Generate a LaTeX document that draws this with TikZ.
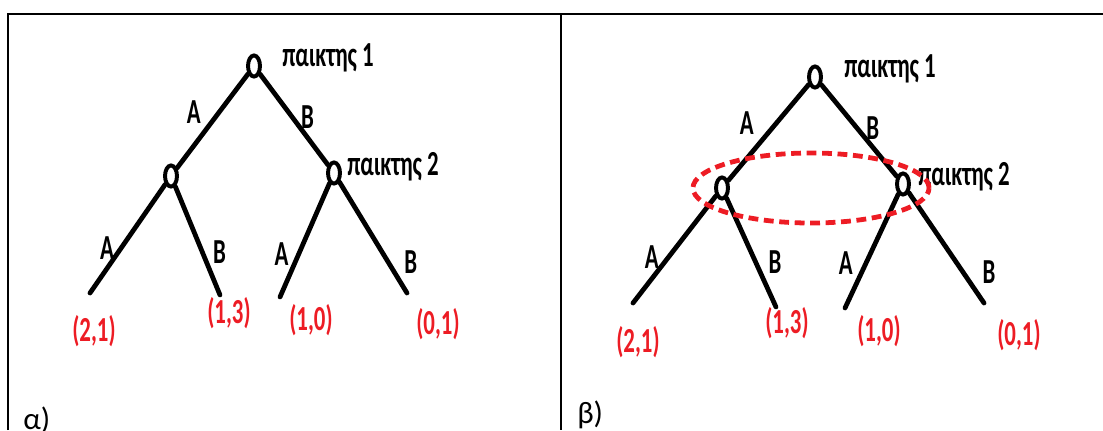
\documentclass[tikz,border=0pt]{standalone}
\usepackage{fontspec}
\setmainfont{Carlito}
\newfontfamily\narrowfont[FakeStretch=0.65]{Carlito Bold}
\usepackage{tikz}
\usetikzlibrary{shapes.geometric, positioning}
\definecolor{treeRed}{RGB}{237,28,36}

\begin{document}
\begin{tikzpicture}[x=0.025cm, y=-0.025cm,
  move/.style={line width=3.4pt, line cap=round},
  choice/.style={ellipse, draw, line width=2.8pt, minimum width=8.5pt,
                 minimum height=15pt, inner sep=0pt},
  player/.style={font=\narrowfont\fontsize{25}{28}\selectfont,
                 inner sep=0pt, anchor=base west},
  act/.style={font=\narrowfont\fontsize{25}{28}\selectfont, inner sep=0pt},
  pay/.style={font=\narrowfont\fontsize{25}{28}\selectfont, text=treeRed,
              inner sep=0pt},
  info/.style={draw=treeRed, line width=3.4pt, dash pattern=on 7pt off 4pt},
  frame/.style={line width=1.3pt},
  tag/.style={font=\fontsize{22}{26}\selectfont, inner sep=0pt, anchor=base west},
]
  \useasboundingbox (0,0) rectangle (1103,430);

  % frame
  \draw[frame] (8,430) -- (8,14) -- (1103,14);
  \draw[frame] (561,14) -- (561,430);

  % (a) perfect information
  \node[choice] (root1) at (254,66) {};
  \node[choice] (left1) at (171,176) {};
  \node[choice] (right1) at (334,173) {};
  \node[player] (p1a) at (282,66) {παικτης 1};
  \node[player] (p2a) at (347,175) {παικτης 2};
  \coordinate (leaf11) at (90,293);
  \coordinate (leaf12) at (220,295);
  \coordinate (leaf13) at (280,297);
  \coordinate (leaf14) at (407,293);

  \draw[move] (root1) -- node[act, pos=0.40, xshift=-18.4pt] (a1A) {A} (left1);
  \draw[move] (root1) -- node[act, pos=0.47, xshift=11pt] (a1B) {B} (right1);
  \draw[move] (left1) -- node[act, pos=0.59, xshift=-9.7pt] (a2A) {A} (leaf11);
  \draw[move] (left1) -- node[act, pos=0.60, xshift=12.3pt] (a2B) {B} (leaf12);
  \draw[move] (right1) -- node[act, pos=0.62, xshift=-12.2pt] (a3A) {A} (leaf13);
  \draw[move] (right1) -- node[act, pos=0.72, xshift=16.2pt] (a3B) {B} (leaf14);

  \node[pay] (pay11) at (94,331) {(2,1)};
  \node[pay] (pay12) at (229,313) {(1,3)};
  \node[pay] (pay13) at (311,320) {(1,0)};
  \node[pay] (pay14) at (438,324) {(0,1)};
  \node[tag] (taga) at (23,429) {α)};

  % (b) imperfect information
  \node[choice] (root2) at (815,77) {};
  \node[choice] (left2) at (722,188) {};
  \node[choice] (right2) at (903,184) {};
  \node[player] (p1b) at (844,77) {παικτης 1};
  \node[player] (p2b) at (918,185) {παικτης 2};
  \coordinate (leaf21) at (633,303);
  \coordinate (leaf22) at (776,307);
  \coordinate (leaf23) at (845,308);
  \coordinate (leaf24) at (984,303);

  \draw[move] (root2) -- node[act, pos=0.40, xshift=-21.1pt] (b1A) {A} (left2);
  \draw[move] (root2) -- node[act, pos=0.47, xshift=11.4pt] (b1B) {B} (right2);
  \draw[move] (left2) -- node[act, pos=0.57, xshift=-12pt] (b2A) {A} (leaf21);
  \draw[move] (left2) -- node[act, pos=0.59, xshift=13.7pt] (b2B) {B} (leaf22);
  \draw[move] (right2) -- node[act, pos=0.61, xshift=-14.2pt] (b3A) {A} (leaf23);
  \draw[move] (right2) -- node[act, pos=0.72, xshift=18.5pt] (b3B) {B} (leaf24);

  \draw[info] (811,188) ellipse [x radius=2.95cm, y radius=0.875cm];

  \node[pay] (pay21) at (638,342) {(2,1)};
  \node[pay] (pay22) at (787,323) {(1,3)};
  \node[pay] (pay23) at (879,331) {(1,0)};
  \node[pay] (pay24) at (1019,335) {(0,1)};
  \node[tag] (tagb) at (577,423) {β)};
\end{tikzpicture}
\end{document}
